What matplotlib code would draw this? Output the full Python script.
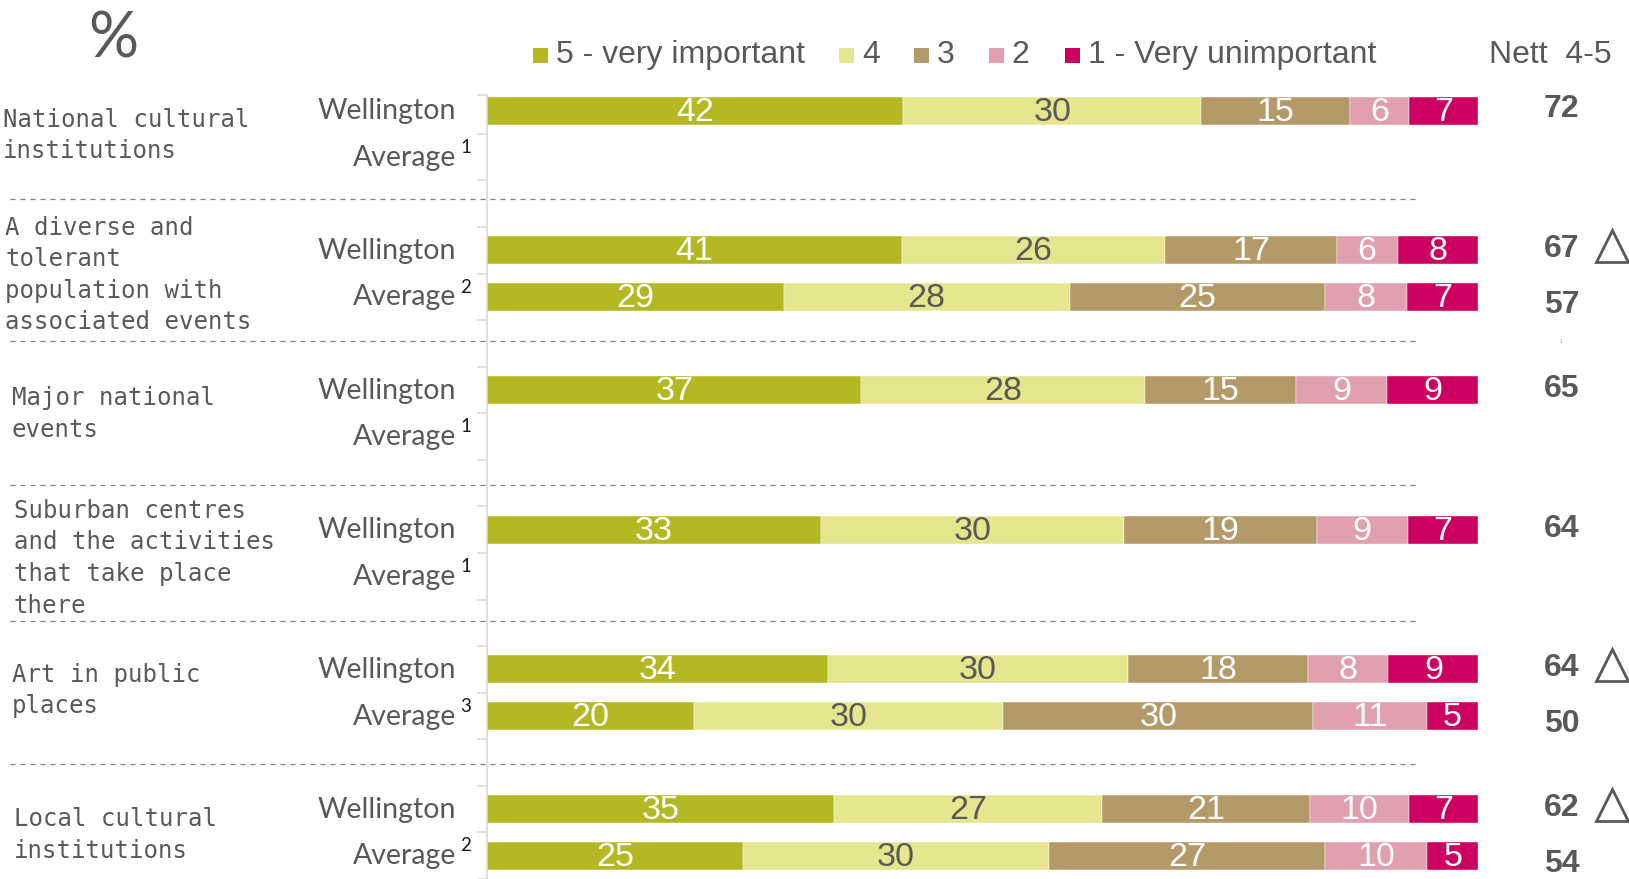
import matplotlib
matplotlib.use("Agg")
import matplotlib.pyplot as plt
import matplotlib.transforms as mtransforms
from matplotlib.patches import Rectangle
import numpy as np

# ---------------- data ----------------
topics = [
    "National cultural\ninstitutions",
    "A diverse and\ntolerant\npopulation with\nassociated events",
    "Major national\nevents",
    "Suburban centres\nand the activities\nthat take place\nthere",
    "Art in public\nplaces",
    "Local cultural\ninstitutions",
]
row_names = ["Wellington", "Average"]
average_notes = ["1", "2", "1", "1", "3", "2"]
levels = ["5 - very important", "4", "3", "2", "1 - Very unimportant"]
level_colors = ["#B4B923", "#E5E68E", "#B59A69", "#E0A0AD", "#CC0060"]
label_colors = ["white", "#595959", "white", "white", "white"]

wellington = [
    [42, 30, 15, 6, 7],
    [41, 26, 17, 6, 8],
    [37, 28, 15, 9, 9],
    [33, 30, 19, 9, 7],
    [34, 30, 18, 8, 9],
    [35, 27, 21, 10, 7],
]
average = [
    None,
    [29, 28, 25, 8, 7],
    None,
    None,
    [20, 30, 30, 11, 5],
    [25, 30, 27, 10, 5],
]
nett_wellington = [72, 67, 65, 64, 64, 62]
nett_average = [None, 57, None, None, 50, 54]
significant = [False, True, False, False, True, True]

# ---------------- layout ----------------
W, H = 1629, 879
GREY = "#595959"
ARIAL = ["Liberation Sans", "DejaVu Sans"]
CALIBRI = ["Lato", "DejaVu Sans"]
MONO = ["DejaVu Sans Mono"]
topic_x = [3, 5, 11.5, 13.5, 11.5, 13.5]
topic_dy = [0.52, 0.52, 0.50, 0.60, 0.44, 0.55]
sep_pos = [1.90, 4.94, 8.03, 10.97, 14.03]

fig = plt.figure(figsize=((W + 0.5) / 100, (H + 0.5) / 100), dpi=100)
fig.patch.set_facecolor("white")

slot_px = 47.3
first_px = 111.3
top_px = 95.0
s_top = (top_px - first_px) / slot_px
s_bot = (H - first_px) / slot_px

ax = fig.add_axes([487 / W, 0, (1478 - 487) / W, 1 - top_px / H])
ax.set_xlim(0, 100)
ax.set_ylim(s_bot, s_top)
for sp in ["top", "right", "bottom"]:
    ax.spines[sp].set_visible(False)
ax.spines["left"].set_color("#D9D9D9")
ax.spines["left"].set_linewidth(1.2)
ax.set_xticks([])
ax.set_yticks([s_top] + list(np.arange(0.5, 3 * len(topics) - 0.5, 1.0)))
ax.tick_params(axis="y", length=7, width=1.1, color="#D9D9D9", labelleft=False)

figx = mtransforms.blended_transform_factory(fig.transFigure, ax.transData)
bar_h = 0.6


def draw_row(y, vals):
    total = float(sum(vals))
    left = 0.0
    for k, v in enumerate(vals):
        w = v / total * 100.0  # 100% stacked bar
        ax.barh(y, w, left=left, height=bar_h, color=level_colors[k],
                edgecolor="white", linewidth=0.3)
        ax.text(left + w / 2, y + 0.02, f"{v}", ha="center", va="center",
                color=label_colors[k], fontsize=24.5, family=ARIAL)
        left += w


for g, topic in enumerate(topics):
    yW = 3 * g
    yA = 3 * g + 1
    draw_row(yW, wellington[g])
    if average[g] is not None:
        draw_row(yA, average[g])

    # row labels
    ax.text(456 / W, yW, row_names[0], transform=figx, ha="right", va="center",
            fontsize=20.5, color=GREY, family=CALIBRI)
    ax.text(456 / W, yA, row_names[1], transform=figx, ha="right", va="center",
            fontsize=20.5, color=GREY, family=CALIBRI)
    ax.text(460 / W, yA - 0.22, average_notes[g], transform=figx, ha="left",
            va="center", fontsize=13.5, color="#1a1a1a", family=CALIBRI)

    # topic labels
    ax.text(topic_x[g] / W, yW + topic_dy[g], topic, transform=figx, ha="left",
            va="center", fontsize=17.3, color=GREY, family=MONO,
            linespacing=1.4)

    # nett values
    ax.text(1561 / W, yW - 0.035, f"{nett_wellington[g]}", transform=figx,
            ha="center", va="center", fontsize=23, fontweight="bold",
            color=GREY, family=ARIAL)
    if nett_average[g] is not None:
        ax.text(1561 / W, yA + 0.16, f"{nett_average[g]}", transform=figx,
                ha="center", va="center", fontsize=23, fontweight="bold",
                color=GREY, family=ARIAL)
    if significant[g]:
        ax.plot([1612 / W], [yW - 0.09], transform=figx, marker="^",
                markersize=23, markerfacecolor="none", markeredgecolor=GREY,
                markeredgewidth=2.0, clip_on=False, linestyle="none")

# group separators
for sp_y in sep_pos:
    ax.plot([10 / W, 1418 / W], [sp_y, sp_y], transform=figx,
            color="#808080", linewidth=0.9, linestyle=(0, (4, 4)),
            clip_on=False)

# tiny stray mark
ax.text(1561 / W, (345 - first_px) / slot_px, "1", transform=figx,
        ha="center", va="center", fontsize=4, color="#999999", family=ARIAL)

# ---------------- header ----------------
fig.text(113 / W, 1 - 39 / H, "%", ha="center", va="center", fontsize=45,
         color=GREY, family=CALIBRI)

legend_sq_x = [533, 839, 914, 989, 1065]
sq = 14.5
leg_y = 56
for k, name in enumerate(levels):
    fig.patches.append(Rectangle((legend_sq_x[k] / W, 1 - (leg_y + sq / 2) / H),
                                 sq / W, sq / H, transform=fig.transFigure,
                                 facecolor=level_colors[k], edgecolor="none"))
    fig.text((legend_sq_x[k] + sq + 8) / W, 1 - (leg_y - 1) / H, name,
             ha="left", va="center", fontsize=23, color=GREY, family=ARIAL)

fig.text(1489 / W, 1 - (leg_y - 1) / H, "Nett  4-5", ha="left", va="center",
         fontsize=23, color=GREY, family=ARIAL)

fig.savefig("out.png", dpi=100, facecolor="white")
